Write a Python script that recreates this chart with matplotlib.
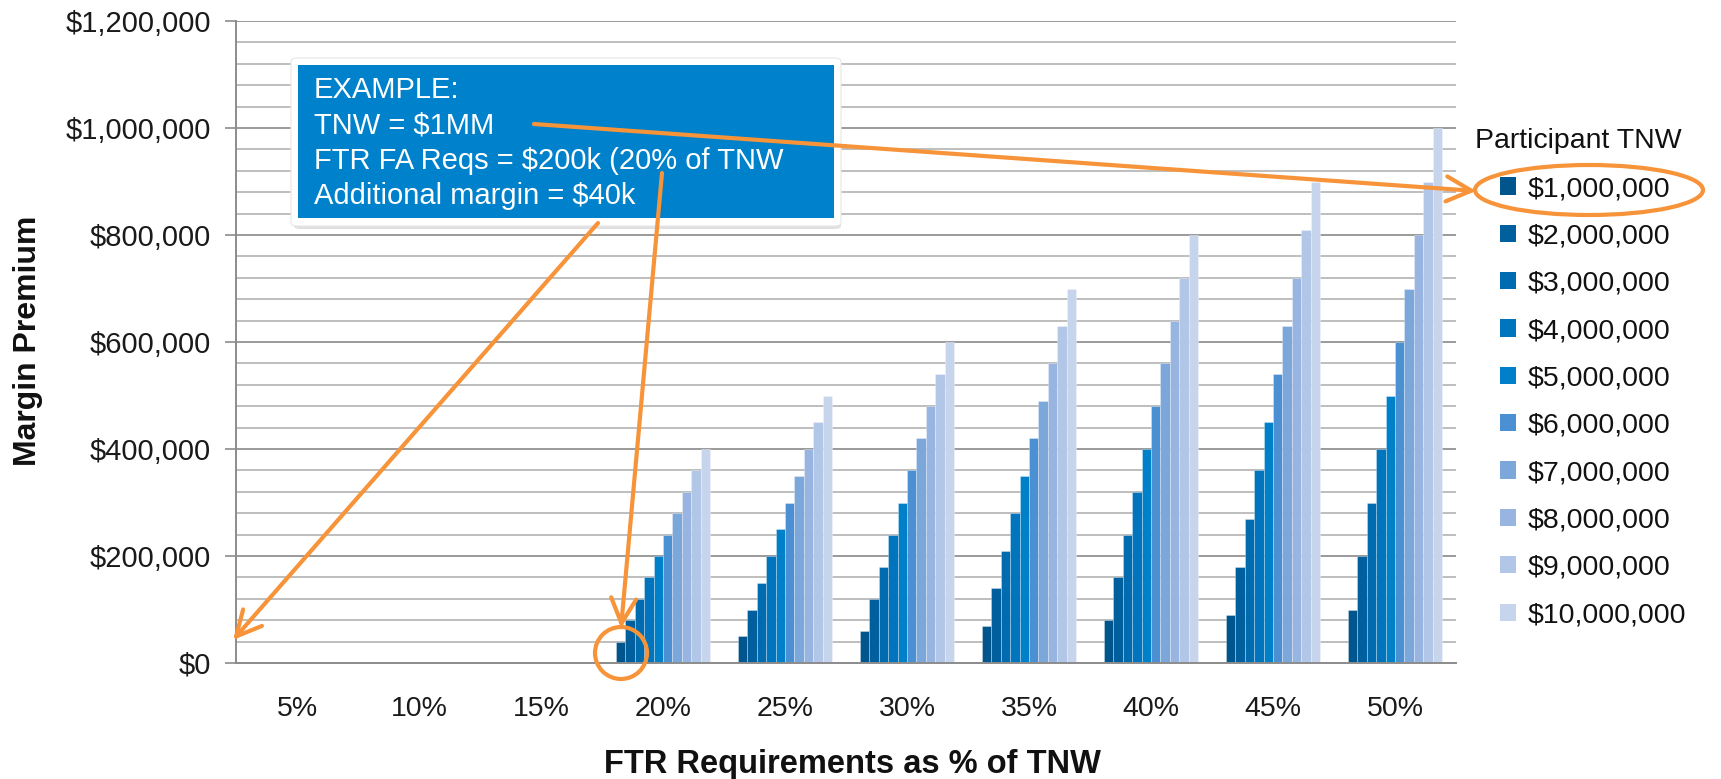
import matplotlib
matplotlib.use("Agg")
import matplotlib.pyplot as plt
import numpy as np
from matplotlib.patches import Patch, FancyBboxPatch, Rectangle, Ellipse, FancyArrowPatch
from matplotlib.ticker import FuncFormatter, MultipleLocator

plt.rcParams['font.family'] = ['Liberation Sans', 'DejaVu Sans']

categories = ["5%", "10%", "15%", "20%", "25%", "30%", "35%", "40%", "45%", "50%"]
series_names = ["$1,000,000", "$2,000,000", "$3,000,000", "$4,000,000", "$5,000,000",
                "$6,000,000", "$7,000,000", "$8,000,000", "$9,000,000", "$10,000,000"]
tnw_1m = [0, 0, 0, 40000, 50000, 60000, 70000, 80000, 90000, 100000]
tnw_2m = [0, 0, 0, 80000, 100000, 120000, 140000, 160000, 180000, 200000]
tnw_3m = [0, 0, 0, 120000, 150000, 180000, 210000, 240000, 270000, 300000]
tnw_4m = [0, 0, 0, 160000, 200000, 240000, 280000, 320000, 360000, 400000]
tnw_5m = [0, 0, 0, 200000, 250000, 300000, 350000, 400000, 450000, 500000]
tnw_6m = [0, 0, 0, 240000, 300000, 360000, 420000, 480000, 540000, 600000]
tnw_7m = [0, 0, 0, 280000, 350000, 420000, 490000, 560000, 630000, 700000]
tnw_8m = [0, 0, 0, 320000, 400000, 480000, 560000, 640000, 720000, 800000]
tnw_9m = [0, 0, 0, 360000, 450000, 540000, 630000, 720000, 810000, 900000]
tnw_10m = [0, 0, 0, 400000, 500000, 600000, 700000, 800000, 900000, 1000000]
series_values = [tnw_1m, tnw_2m, tnw_3m, tnw_4m, tnw_5m, tnw_6m, tnw_7m, tnw_8m, tnw_9m, tnw_10m]
colors = ["#00558C", "#005F9C", "#006BAE", "#0074BD", "#0080C8",
          "#4A90D2", "#7BA7DB", "#98B4E0", "#B2C6E7", "#C6D4EC"]

W, H = 1721, 779
fig = plt.figure(figsize=(W / 100, H / 100), dpi=100)

def fx(x):
    return x / W

def fy(y):
    return 1 - y / H

left, right, top, bottom = 236, 1456, 21, 663
ax = fig.add_axes([fx(left), fy(bottom), fx(right) - fx(left), fy(top) - fy(bottom)])

n = len(series_values)
group_w = 0.77
bw = group_w / n
x = np.arange(len(categories))
for i, (vals, c) in enumerate(zip(series_values, colors)):
    ax.bar(x - group_w / 2 + bw * (i + 0.5), vals, width=bw, color=c,
           edgecolor=(1, 1, 1, 0.35), linewidth=0.6, zorder=3)

ax.set_xlim(-0.5, len(categories) - 0.5)
ax.set_ylim(0, 1200000)
ax.yaxis.set_major_locator(MultipleLocator(200000))
ax.yaxis.set_minor_locator(MultipleLocator(40000))
ax.yaxis.set_major_formatter(FuncFormatter(lambda v, p: "${:,.0f}".format(v)))
ax.grid(axis='y', which='major', color='#9A9A9A', linewidth=1.4, zorder=0)
ax.grid(axis='y', which='minor', color='#BEBEBE', linewidth=1.4, zorder=0)
ax.set_xticks(x)
ax.set_xticklabels(categories)
ax.tick_params(axis='x', length=0, pad=23.5, labelsize=20.5, colors='#1a1a1a')
ax.tick_params(axis='y', which='major', length=8, width=1.2, color='#8C8C8C', pad=10,
               labelsize=21, labelcolor='#1a1a1a')
ax.tick_params(axis='y', which='minor', length=0)
for s in ['top', 'right']:
    ax.spines[s].set_visible(False)
for s in ['left', 'bottom']:
    ax.spines[s].set_color('#8C8C8C')
    ax.spines[s].set_linewidth(1.4)
ax.spines['bottom'].set_zorder(4)

fig.text(fx(28), fy(341), "Margin Premium", rotation=90, ha='center', va='center',
         fontsize=23, fontweight='bold', color='#111111')
fig.text(fx(852), fy(764), "FTR Requirements as % of TNW", ha='center', va='center',
         fontsize=23.5, fontweight='bold', color='#111111')

# legend
handles = [Patch(facecolor=c, edgecolor='none') for c in colors]
fig.text(fx(1475), fy(141), "Participant TNW", ha='left', va='center', fontsize=20.5, color='#111111')
leg = fig.legend(handles, series_names, loc='upper left',
                 bbox_to_anchor=(fx(1500), fy(176)), frameon=False,
                 fontsize=20.5, handlelength=0.55, handleheight=0.55,
                 handletextpad=0.42, labelspacing=0.75, borderpad=0, borderaxespad=0)
for t in leg.get_texts():
    t.set_color('#111111')

# annotation box
fig.add_artist(FancyBboxPatch((fx(294), fy(229)), fx(841) - fx(294), fy(58) - fy(229),
                              boxstyle="round,pad=0,rounding_size=0.004",
                              transform=fig.transFigure, facecolor='#000000', alpha=0.12,
                              edgecolor='none', zorder=5))
fig.add_artist(FancyBboxPatch((fx(291), fy(226)), fx(841) - fx(291), fy(58) - fy(226),
                              boxstyle="round,pad=0,rounding_size=0.004",
                              transform=fig.transFigure, facecolor='white',
                              edgecolor='#E6E6E6', linewidth=0.8, zorder=6))
fig.add_artist(Rectangle((fx(298), fy(218)), fx(834) - fx(298), fy(65) - fy(218),
                         transform=fig.transFigure, facecolor='#0081CB', edgecolor='none', zorder=7))
box_lines = ["EXAMPLE:", "TNW = $1MM", "FTR FA Reqs = $200k (20% of TNW", "Additional margin = $40k"]
for i, line in enumerate(box_lines):
    fig.text(fx(314), fy(90 + i * 35.3), line, ha='left', va='center', fontsize=21,
             color='white', zorder=8)

orange = '#F7943A'
def arrow(p0, p1):
    a = FancyArrowPatch((fx(p0[0]), fy(p0[1])), (fx(p1[0]), fy(p1[1])),
                        transform=fig.transFigure,
                        arrowstyle='->,head_length=0.9,head_width=0.45',
                        mutation_scale=20, color=orange, linewidth=3, zorder=9,
                        shrinkA=0, shrinkB=0)
    fig.add_artist(a)

arrow((534, 124), (1476, 191))
arrow((662, 173), (621, 628))
arrow((598, 223), (233, 640))

fig.add_artist(Ellipse((fx(621), fy(653)), fx(52), 52 / H, transform=fig.transFigure,
                       facecolor='none', edgecolor=orange, linewidth=3, zorder=9))
fig.add_artist(Ellipse((fx(1589), fy(190)), fx(228), 50 / H, transform=fig.transFigure,
                       facecolor='none', edgecolor=orange, linewidth=3, zorder=9))

fig.savefig("out.png", dpi=100)
